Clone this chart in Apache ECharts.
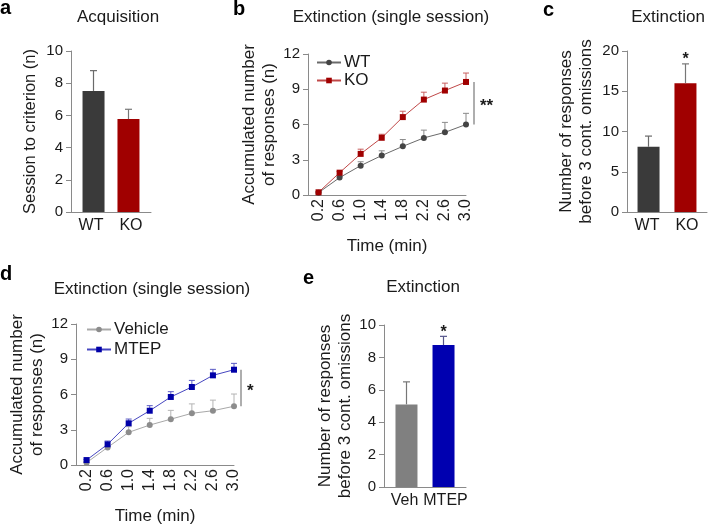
<!DOCTYPE html>
<html><head><meta charset="utf-8">
<script src="https://cdn.jsdelivr.net/npm/echarts@6/dist/echarts.min.js"></script>
<style>html,body{margin:0;padding:0;background:#fff}#c{width:709px;height:527px}</style>
</head><body><div id="c"></div>
<script>
// ---- data ----
const groupsA = ['WT', 'KO'];
const acqMean = [7.52, 5.77];
const acqSem = [1.26, 0.61];
const acqSig = ['', ''];

const groupsC = ['WT', 'KO'];
const extMean = [8.1, 16.0];
const extSem = [1.33, 2.4];
const extSig = ['', '*'];

const groupsE = ['Veh', 'MTEP'];
const mtepMean = [5.1, 8.76];
const mtepSem = [1.39, 0.54];
const mtepSig = ['', '*'];

const timeMin = [0.2, 0.6, 1.0, 1.4, 1.8, 2.2, 2.6, 3.0];
const timeTickLabels = ['0.2', '0.6', '1.0', '1.4', '1.8', '2.2', '2.6', '3.0'];
const wtMean = [0.2, 1.48, 2.5, 3.36, 4.14, 4.86, 5.33, 6.0];
const wtSem = [0.05, 0.12, 0.33, 0.4, 0.58, 0.66, 0.85, 0.95];
const koMean = [0.23, 1.9, 3.5, 4.87, 6.63, 8.12, 8.89, 9.62];
const koSem = [0.05, 0.1, 0.4, 0.3, 0.5, 0.63, 0.63, 0.76];
const vehMean = [0.2, 1.5, 2.78, 3.4, 3.9, 4.4, 4.62, 5.0];
const vehSem = [0.05, 0.1, 0.48, 0.57, 0.75, 0.8, 0.9, 1.04];
const mtMean = [0.42, 1.76, 3.55, 4.62, 5.79, 6.64, 7.63, 8.11];
const mtSem = [0.05, 0.28, 0.36, 0.43, 0.45, 0.56, 0.51, 0.54];
const sigB = '**';
const sigD = '*';

// ---- styling ----
const FONT = "'Liberation Sans', Arial, sans-serif";
const AX = '#8a8a8a';
const TXT = '#1a1a1a';

const grids = [], xAxes = [], yAxes = [], series = [];

function yAxisCfg(i, max, interval, name, gap, nameSize) {
  return {
    type: 'value', gridIndex: i, min: 0, max: max, interval: interval,
    name: name, nameLocation: 'middle', nameGap: gap, nameRotate: 90,
    nameTextStyle: { fontFamily: FONT, fontSize: nameSize, color: TXT, lineHeight: 20 },
    axisLine: { show: true, lineStyle: { color: AX, width: 1 } },
    axisTick: { show: true, length: 5, lineStyle: { color: AX } },
    axisLabel: { fontFamily: FONT, fontSize: 15, color: TXT, margin: 8 },
    splitLine: { show: false }
  };
}

function barPanel(i, grid, cats, means, sems, sig, colors, errColors, gap, d, yMax, yInt, yName, nameGap, nameSize) {
  grids.push(grid);
  xAxes.push({
    type: 'category', gridIndex: i, data: cats,
    axisLine: { show: true, lineStyle: { color: AX, width: 1 } },
    axisTick: { show: false },
    axisLabel: { fontFamily: FONT, fontSize: 16, color: TXT, margin: 6, interval: 0, hideOverlap: false }
  });
  yAxes.push(yAxisCfg(i, yMax, yInt, yName, nameGap, nameSize));
  cats.forEach(function (c, j) {
    series.push({
      type: 'bar', name: 'bar-' + i + '-' + c, xAxisIndex: i, yAxisIndex: i,
      data: cats.map(function (cc, k) { return k === j ? means[k] : '-'; }),
      barWidth: 22, barGap: gap, itemStyle: { color: colors[j] }, z: 2,
      emphasis: { disabled: true }
    });
  });
  series.push({
    type: 'custom', xAxisIndex: i, yAxisIndex: i, z: 3, silent: true,
    data: cats.map(function (c, j) { return [j, means[j], sems[j]]; }),
    renderItem: function (params, api) {
      const j = api.value(0);
      const base = api.coord([j, api.value(1)]);
      const top = api.coord([j, api.value(1) + api.value(2)]);
      const x = base[0] + (j === 0 ? d : -d);
      const col = errColors[j];
      const ch = [
        { type: 'line', shape: { x1: x, y1: base[1], x2: x, y2: top[1] }, style: { stroke: col, lineWidth: 1.2 } },
        { type: 'line', shape: { x1: x - 3.5, y1: top[1], x2: x + 3.5, y2: top[1] }, style: { stroke: col, lineWidth: 1.2 } }
      ];
      const s = sig[params.dataIndex];
      if (s) ch.push({ type: 'text', style: { text: s, x: x, y: top[1] - 4, align: 'center', verticalAlign: 'middle',
        font: 'bold 16px ' + FONT, fill: TXT } });
      return { type: 'group', children: ch };
    }
  });
}

function linePanel(i, grid, names, means, sems, lineCols, markCols, errCols, symbols, sig, bracketDx, nameGap) {
  grids.push(grid);
  xAxes.push({
    type: 'value', gridIndex: i, min: 0, max: 3.0,
    name: 'Time (min)', nameLocation: 'middle', nameGap: 43,
    nameTextStyle: { fontFamily: FONT, fontSize: 17, color: TXT },
    axisLine: { show: true, lineStyle: { color: AX, width: 1 } },
    axisTick: { show: false },
    axisLabel: { fontFamily: FONT, fontSize: 16, color: TXT, rotate: 90, margin: 4,
      customValues: timeMin,
      formatter: function (v) { const k = timeMin.findIndex(function (t) { return Math.abs(t - v) < 1e-6; }); return k >= 0 ? timeTickLabels[k] : ''; } },
    splitLine: { show: false }
  });
  yAxes.push(yAxisCfg(i, 12, 3, 'Accumulated number\nof responses (n)', nameGap, 17));
  names.forEach(function (nm, s) {
    series.push({
      type: 'custom', xAxisIndex: i, yAxisIndex: i, z: 1, silent: true,
      data: timeMin.map(function (t, k) { return [t, means[s][k], sems[s][k]]; }),
      renderItem: function (params, api) {
        const b = api.coord([api.value(0), api.value(1)]);
        const t = api.coord([api.value(0), api.value(1) + api.value(2)]);
        return { type: 'group', children: [
          { type: 'line', shape: { x1: b[0], y1: b[1], x2: b[0], y2: t[1] }, style: { stroke: errCols[s], lineWidth: 1 } },
          { type: 'line', shape: { x1: b[0] - 3, y1: t[1], x2: b[0] + 3, y2: t[1] }, style: { stroke: errCols[s], lineWidth: 1 } }
        ] };
      }
    });
    series.push({
      type: 'line', name: nm, xAxisIndex: i, yAxisIndex: i, z: 3,
      data: timeMin.map(function (t, k) { return [t, means[s][k]]; }),
      symbol: symbols[s], symbolSize: 6, showAllSymbol: true,
      lineStyle: { color: lineCols[s], width: 1 },
      itemStyle: { color: markCols[s] },
      emphasis: { disabled: true }
    });
  });
  const n = timeMin.length - 1;
  series.push({
    type: 'custom', xAxisIndex: i, yAxisIndex: i, z: 3, silent: true,
    data: [[timeMin[n], means[1][n], means[0][n]]],
    renderItem: function (params, api) {
      const p1 = api.coord([api.value(0), api.value(1)]);
      const p2 = api.coord([api.value(0), api.value(2)]);
      const x = p1[0] + bracketDx;
      return { type: 'group', children: [
        { type: 'line', shape: { x1: x, y1: p1[1], x2: x, y2: p2[1] }, style: { stroke: '#9a9a9a', lineWidth: 1.6 } },
        { type: 'text', style: { text: sig, x: x + 6, y: (p1[1] + p2[1]) / 2 + 3, align: 'left', verticalAlign: 'middle',
          font: 'bold 17px ' + FONT, fill: TXT } }
      ] };
    }
  });
}

barPanel(0, { left: 71, top: 51, width: 80, height: 161 }, groupsA, acqMean, acqSem, acqSig,
  ['#3a3a3a', '#a00000'], ['#6a6a6a', '#777777'], '-123%', 2.5, 10, 2, 'Session to criterion (n)', 31, 16.5);
linePanel(1, { left: 308, top: 54, width: 158, height: 141 }, ['WT', 'KO'], [wtMean, koMean], [wtSem, koSem],
  ['#6a6a6a', '#c04848'], ['#444444', '#a00000'], ['#8a8a8a', '#c86060'], ['circle', 'rect'], sigB, 8, 28);
barPanel(2, { left: 627, top: 51, width: 80, height: 161 }, groupsC, extMean, extSem, extSig,
  ['#3a3a3a', '#a00000'], ['#6a6a6a', '#777777'], '-114%', 1.5, 20, 5, 'Number of responses\nbefore 3 cont. omissions', 30.5, 17);
linePanel(3, { left: 76, top: 324, width: 158, height: 141 }, ['Vehicle', 'MTEP'], [vehMean, mtMean], [vehSem, mtSem],
  ['#a8a8a8', '#4646c0'], ['#8c8c8c', '#0000a8'], ['#b4b4b4', '#5a5ac4'], ['circle', 'rect'], sigD, 7, 27.5);
barPanel(4, { left: 384, top: 325, width: 82, height: 162 }, groupsE, mtepMean, mtepSem, mtepSig,
  ['#808080', '#0000b0'], ['#777777', '#55558a'], '-118%', 2, 10, 2, 'Number of responses\nbefore 3 cont. omissions', 27, 17);

const titleStyle = { fontFamily: FONT, fontSize: 17, fontWeight: 'normal', color: TXT };
const letterStyle = { fontFamily: FONT, fontSize: 20, fontWeight: 'bold', color: '#000' };
const option = {
  backgroundColor: '#fff',
  animation: false,
  textStyle: { fontFamily: FONT },
  title: [
    { text: 'Acquisition', left: 113, top: 4, textAlign: 'center', textStyle: titleStyle },
    { text: 'Extinction (single session)', left: 386, top: 4, textAlign: 'center', textStyle: titleStyle },
    { text: 'Extinction', left: 663, top: 4, textAlign: 'center', textStyle: titleStyle },
    { text: 'Extinction (single session)', left: 147, top: 276, textAlign: 'center', textStyle: titleStyle },
    { text: 'Extinction', left: 418, top: 274, textAlign: 'center', textStyle: titleStyle },
    { text: 'a', left: 0, top: -2, padding: 0, textStyle: letterStyle },
    { text: 'b', left: 233, top: -1, padding: 0, textStyle: letterStyle },
    { text: 'c', left: 543, top: 0, padding: 0, textStyle: letterStyle },
    { text: 'd', left: 0, top: 264, padding: 0, textStyle: letterStyle },
    { text: 'e', left: 303, top: 268, padding: 0, textStyle: letterStyle }
  ],
  legend: [
    { data: ['WT', 'KO'], orient: 'vertical', left: 311, top: 49, itemWidth: 24, itemHeight: 7, itemGap: 1,
      textStyle: { fontFamily: FONT, fontSize: 17, color: TXT, padding: [0, 0, 0, -2] } },
    { data: ['Vehicle', 'MTEP'], orient: 'vertical', left: 81, top: 316, itemWidth: 24, itemHeight: 7, itemGap: 3,
      textStyle: { fontFamily: FONT, fontSize: 17, color: TXT, padding: [0, 0, 0, -2] } }
  ],
  grid: grids, xAxis: xAxes, yAxis: yAxes, series: series
};
const chart = echarts.init(document.getElementById('c'), null, { renderer: 'canvas' });
chart.setOption(option);
</script></body></html>
